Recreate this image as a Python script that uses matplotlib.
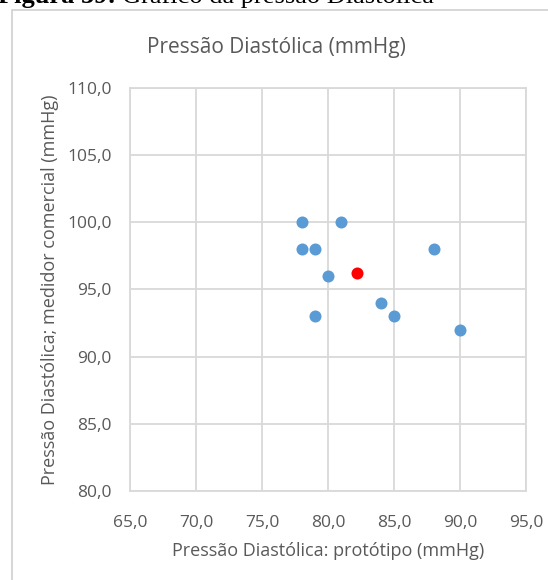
import matplotlib
matplotlib.use('Agg')
import matplotlib.pyplot as plt
from matplotlib.patches import Rectangle
from matplotlib.ticker import FuncFormatter

# values
prototipo = [78, 81, 78, 79, 88, 80, 84, 79, 85, 90]
comercial = [100, 100, 98, 98, 98, 96, 94, 93, 93, 92]
media_x = [82.2]
media_y = [96.2]

x_ticks = [65, 70, 75, 80, 85, 90, 95]
y_ticks = [80, 85, 90, 95, 100, 105, 110]

W, H = 548, 580
fig = plt.figure(figsize=(W / 100, H / 100), dpi=100)
plt.rcParams['font.family'] = ['Open Sans', 'DejaVu Sans']

gray_txt = '#595959'
grid_col = '#D9D9D9'

# outer chart frame (cut by the page)
fig.patches.append(Rectangle((12 / W, -0.05), 1.0, 1 - 10 / H + 0.05,
                             transform=fig.transFigure, fill=False,
                             edgecolor='#D0D0D0', lw=1.2))

# caption of the document, cut at top
cap1 = fig.text(-2 / W, 1 - 3 / H, 'Figura 39:', family='Liberation Serif',
                fontweight='bold', fontsize=19, va='baseline', ha='left')
fig.canvas.draw()
bb = cap1.get_window_extent()
fig.text((bb.x1 + 6) / W, 1 - 3 / H, 'Gráfico da pressão Diastólica',
         family='Liberation Serif', fontsize=19, va='baseline', ha='left')

ax = fig.add_axes([130 / W, 1 - 491 / H, (526 - 130) / W, (491 - 88) / H])
ax.scatter(prototipo, comercial, s=75, color='#5B9BD5', zorder=3, linewidths=0)
ax.scatter(media_x, media_y, s=75, color='#FF0000', zorder=3, linewidths=0)

ax.set_xlim(65, 95)
ax.set_ylim(80, 110)
ax.set_xticks(x_ticks)
ax.set_yticks(y_ticks)
fmt = FuncFormatter(lambda v, p: ('%.1f' % v).replace('.', ','))
ax.xaxis.set_major_formatter(fmt)
ax.yaxis.set_major_formatter(fmt)
ax.tick_params(length=0, labelsize=12.5, colors=gray_txt)
ax.tick_params(axis='x', pad=17)
ax.tick_params(axis='y', pad=13)
ax.grid(True, color=grid_col, lw=1.3)
ax.set_axisbelow(True)
for s in ax.spines.values():
    s.set_color(grid_col)
    s.set_linewidth(1.3)

ax.set_xlabel('Pressão Diastólica: protótipo (mmHg)', fontsize=13,
              color=gray_txt, labelpad=8)
ax.set_ylabel('Pressão Diastólica; medidor comercial (mmHg)', fontsize=13,
              color=gray_txt, labelpad=6)
fig.text(276 / W, 1 - 48 / H, 'Pressão Diastólica (mmHg)', fontsize=15,
         color=gray_txt, ha='center', va='center')

fig.savefig('out.png', dpi=100)
